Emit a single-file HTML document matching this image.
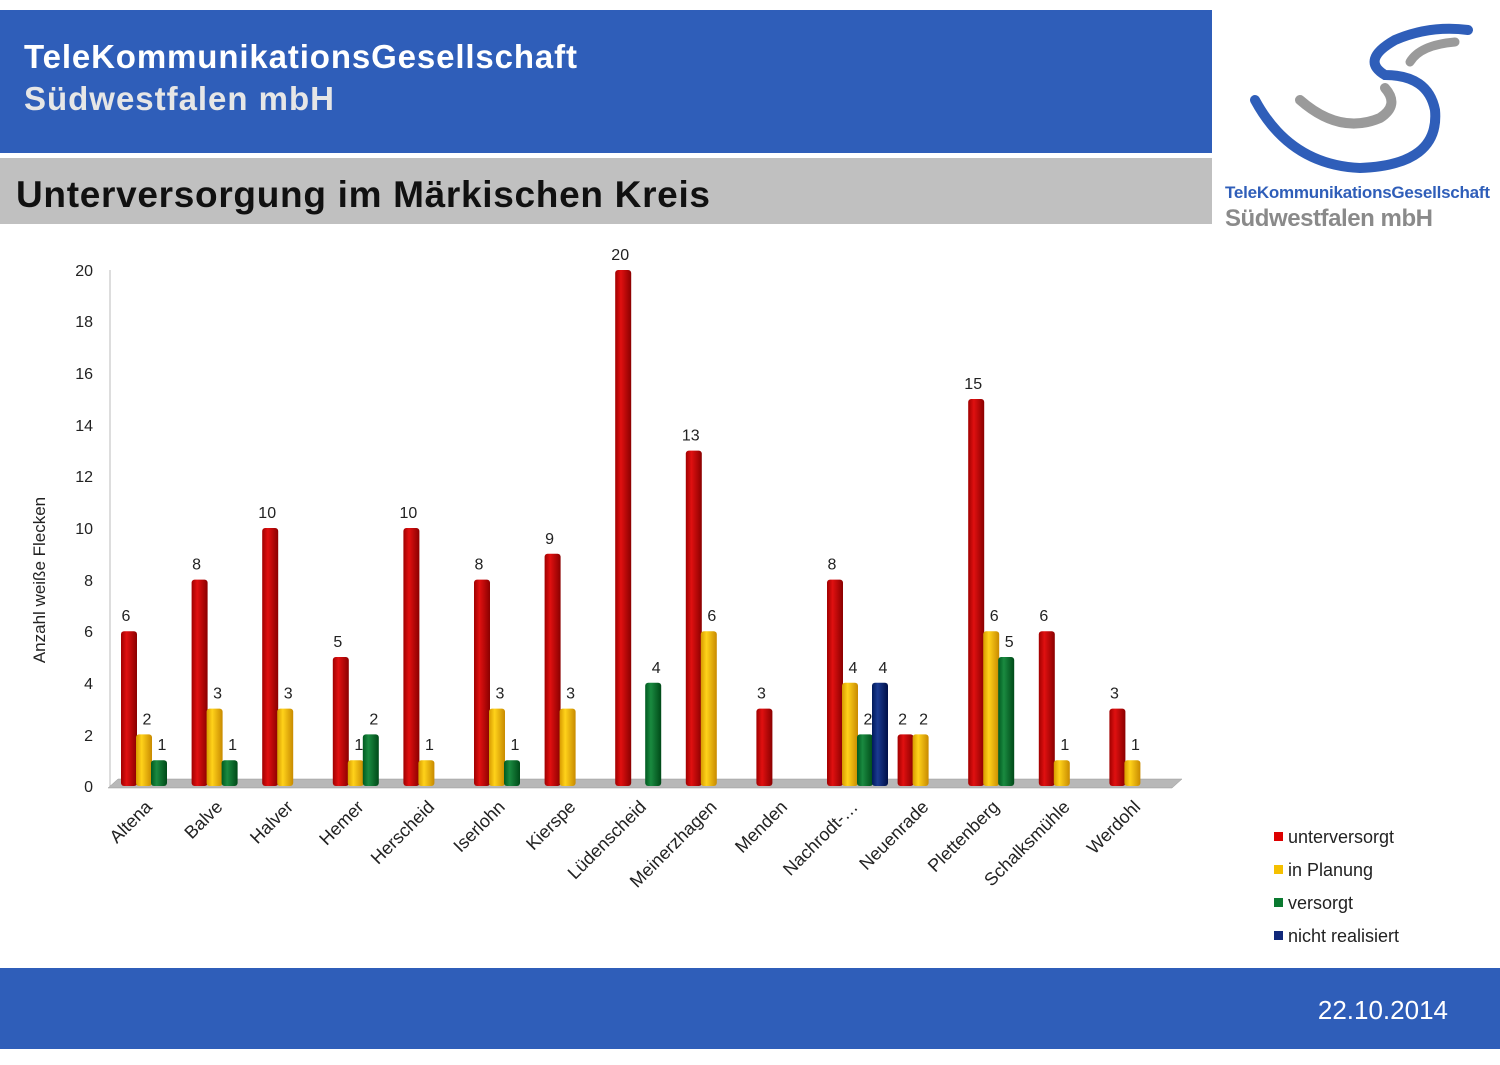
<!DOCTYPE html>
<html><head><meta charset="utf-8"><style>
body{margin:0;width:1500px;height:1060px;background:#fff;overflow:hidden;font-family:"Liberation Sans",sans-serif}
</style></head><body>
<svg width="1500" height="1060" xmlns="http://www.w3.org/2000/svg" font-family="Liberation Sans, sans-serif">
<defs>
<linearGradient id="r" x1="0" x2="1"><stop offset="0" stop-color="#a00000"/><stop offset=".35" stop-color="#e01010"/><stop offset="1" stop-color="#8a0000"/></linearGradient>
<linearGradient id="y" x1="0" x2="1"><stop offset="0" stop-color="#d79a00"/><stop offset=".35" stop-color="#ffd21a"/><stop offset="1" stop-color="#c88a00"/></linearGradient>
<linearGradient id="g" x1="0" x2="1"><stop offset="0" stop-color="#005a20"/><stop offset=".35" stop-color="#1a8a40"/><stop offset="1" stop-color="#004a18"/></linearGradient>
<linearGradient id="b" x1="0" x2="1"><stop offset="0" stop-color="#001a5a"/><stop offset=".35" stop-color="#1a3a90"/><stop offset="1" stop-color="#001048"/></linearGradient>
</defs>
<rect x="0" y="10" width="1212" height="143" fill="#2f5eb9"/>
<text x="24" y="68" font-size="33" font-weight="bold" fill="#fff" textLength="553">TeleKommunikationsGesellschaft</text>
<text x="24" y="110" font-size="33" font-weight="bold" fill="#e6e6e6" textLength="310">Südwestfalen mbH</text>
<rect x="0" y="158" width="1212" height="66" fill="#c0c0c0"/>
<text x="16" y="207" font-size="37" font-weight="bold" fill="#111" textLength="694">Unterversorgung im Märkischen Kreis</text>
<!-- logo -->
<path d="M1255 100 Q1290 165 1360 168 Q1440 165 1435 110 Q1428 75 1385 75 Q1360 60 1395 40 Q1430 25 1468 30" fill="none" stroke="#2f5eb9" stroke-width="10" stroke-linecap="round"/>
<path d="M1300 100 Q1340 135 1380 118 Q1400 105 1385 88" fill="none" stroke="#9a9a9a" stroke-width="10" stroke-linecap="round"/>
<path d="M1410 62 Q1420 45 1455 42" fill="none" stroke="#9a9a9a" stroke-width="9" stroke-linecap="round"/>
<text x="1225" y="198" font-size="17" font-weight="bold" fill="#2f5eb9" textLength="265">TeleKommunikationsGesellschaft</text>
<text x="1225" y="226" font-size="24" font-weight="bold" fill="#8a8a8a" textLength="208">Südwestfalen mbH</text>
<!-- axis -->
<line x1="110" y1="270" x2="110" y2="786" stroke="#bbb"/>
<polygon points="108,788 118,779 1182,779 1172,788" fill="#b8b8b8" stroke="#999" stroke-width="0.5"/>
<g font-size="16" fill="#222" text-anchor="end">
<text x="93" y="792">0</text><text x="93" y="741">2</text><text x="93" y="689">4</text><text x="93" y="637">6</text><text x="93" y="586">8</text><text x="93" y="534">10</text><text x="93" y="482">12</text><text x="93" y="431">14</text><text x="93" y="379">16</text><text x="93" y="327">18</text><text x="93" y="276">20</text>
</g>
<text transform="translate(45,580) rotate(-90)" font-size="17" fill="#222" text-anchor="middle">Anzahl weiße Flecken</text>
<g id="bars"></g>
<g font-size="18" fill="#222" id="cats"></g>
<!-- legend -->
<g font-size="18" fill="#222">
<rect x="1274" y="832" width="9" height="9" fill="#d00"/><text x="1288" y="843">unterversorgt</text>
<rect x="1274" y="865" width="9" height="9" fill="#f5c000"/><text x="1288" y="876">in Planung</text>
<rect x="1274" y="898" width="9" height="9" fill="#0a7a30"/><text x="1288" y="909">versorgt</text>
<rect x="1274" y="931" width="9" height="9" fill="#10287a"/><text x="1288" y="942">nicht realisiert</text>
</g>
<rect x="0" y="968" width="1500" height="81" fill="#2f5eb9"/>
<text x="1448" y="1019" font-size="26" fill="#fff" text-anchor="end">22.10.2014</text>
</svg>
<script>
const d=[["Altena",[6,2,1,0]],["Balve",[8,3,1,0]],["Halver",[10,3,0,0]],["Hemer",[5,1,2,0]],["Herscheid",[10,1,0,0]],["Iserlohn",[8,3,1,0]],["Kierspe",[9,3,0,0]],["Lüdenscheid",[20,0,4,0]],["Meinerzhagen",[13,6,0,0]],["Menden",[3,0,0,0]],["Nachrodt-…",[8,4,2,4]],["Neuenrade",[2,2,0,0]],["Plettenberg",[15,6,5,0]],["Schalksmühle",[6,1,0,0]],["Werdohl",[3,1,0,0]]];
const f=["r","y","g","b"];let s="",c="";
d.forEach((e,i)=>{const x=121+i*70.6;e[1].forEach((v,k)=>{if(!v)return;const bx=x+k*15,top=786-v*25.8;
s+=`<rect x="${bx}" y="${top}" width="16" height="${v*25.8}" rx="3" fill="url(#${f[k]})"/>`;
s+=`<text x="${bx+(k?11:5)}" y="${top-10}" font-size="16" fill="#222" text-anchor="middle">${v}</text>`;});
c+=`<text transform="translate(${x+32},808) rotate(-45)" text-anchor="end">${e[0]}</text>`;});
document.getElementById("bars").innerHTML=s;document.getElementById("cats").innerHTML=c;
</script>
</body></html>
